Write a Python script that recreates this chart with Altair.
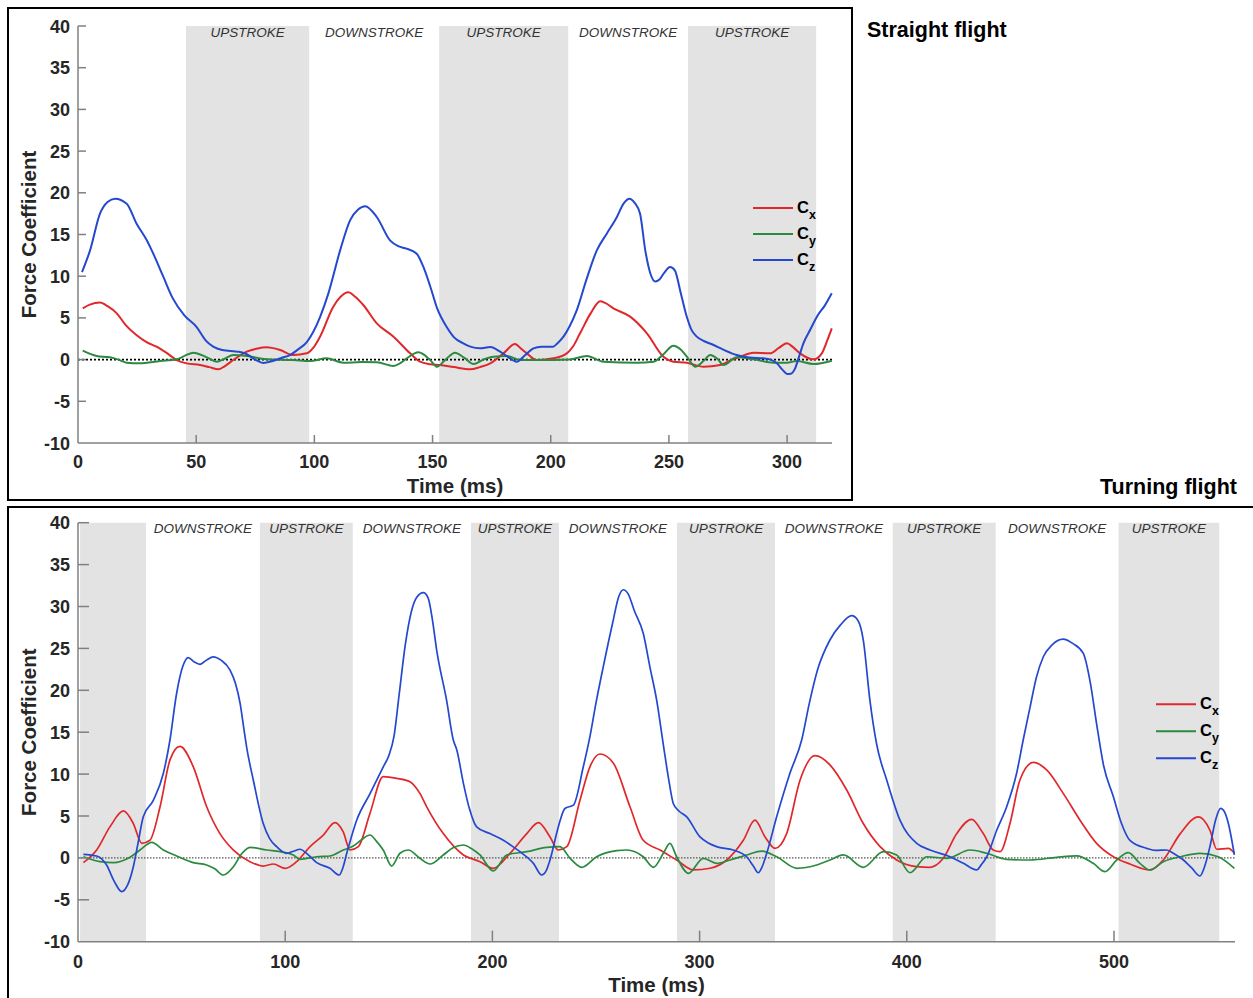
import altair as alt
import pandas as pd

W, H = 1253, 998
FONT = "Liberation Sans"
INK = "#262626"
AXIS_GREY = "#808080"
BAND_GREY = "#e3e3e3"
COLORS = {"x": "#e0282b", "y": "#2a8a3e", "z": "#2448cf"}
Y_TICKS = [-10, -5, 0, 5, 10, 15, 20, 25, 30, 35, 40]

# ---------------- Straight flight ----------------
sf_cx_t = [2, 5, 9.3, 12.5, 16.4, 20, 24.7, 29, 33.2, 37.5, 41.8, 46, 51.6, 55.5, 59.4, 62, 65.7, 71.4,
           75.5, 79.8, 85.5, 91.1, 96.8, 99.5, 102.4, 108, 111, 114.4, 117, 120.7, 126.4, 133.5, 140.5,
           144.7, 149, 153.2, 159, 165.9, 170, 174.4, 180, 184.9, 187.5, 189.9, 194.1, 201.1, 206.8,
           209.5, 212.4, 217, 220.9, 223, 226.5, 233.6, 240.7, 247.7, 251.9, 257.6, 264.6, 271.7, 276,
           280.1, 285.8, 292.8, 296.5, 299.9, 302.5, 305.5, 311.2, 314.7, 317, 318.9]
sf_cx = [6.15, 6.6, 6.85, 6.4, 5.55, 4.2, 2.95, 2.1, 1.55, 0.8, -0.05, -0.45, -0.65, -0.9, -1.16, -0.8,
         -0.05, 0.95, 1.3, 1.47, 1.15, 0.55, 0.75, 1.4, 2.75, 6.35, 7.5, 8.07, 7.6, 6.55, 4.35, 2.75,
         0.75, -0.25, -0.55, -0.65, -0.9, -1.16, -0.9, -0.45, 0.75, 1.87, 1.3, 0.75, -0.05, 0.15, 0.75,
         1.6, 3.15, 5.6, 7.0, 6.8, 6.15, 5.15, 3.15, 0.35, -0.25, -0.37, -0.85, -0.65, -0.1, 0.35, 0.83,
         0.75, 1.4, 1.95, 1.5, 0.75, 0.03, 0.75, 2.3, 3.75]

sf_cy_t = [2, 7.9, 13.5, 17, 20.6, 26.2, 34.7, 41.8, 45.5, 48.8, 54.5, 58.7, 62, 65.7, 71.4, 79.8, 91.1,
           98.2, 105.2, 112.3, 120, 126.4, 133.5, 136.5, 139.1, 144, 149, 151.8, 155.5, 159.5, 163.5,
           167.3, 171.5, 175.8, 181.4, 187.1, 201.1, 208, 215.3, 222.3, 236.4, 243.5, 247.5, 251.9, 255,
           257.6, 261.1, 264.5, 267.5, 270.5, 273.1, 278.7, 285.8, 294.2, 299.9, 304.1, 311.2, 318.9]
sf_cy = [1.07, 0.43, 0.27, 0, -0.37, -0.45, -0.17, 0.03, 0.5, 0.83, 0.27, -0.25, 0.1, 0.55, 0.43, 0.03,
         -0.05, -0.17, 0.15, -0.37, -0.3, -0.32, -0.77, -0.4, 0.15, 0.87, -0.05, -0.85, 0, 0.83, 0.2,
         -0.53, 0, 0.35, 0.43, -0.05, -0.05, 0, 0.43, -0.25, -0.37, -0.25, 0.6, 1.67, 1.2, 0.35, -0.85,
         -0.2, 0.55, 0.1, -0.65, 0.27, 0.03, -0.37, -0.37, -0.17, -0.53, -0.13]

sf_cz_t = [1.7, 5.1, 9.3, 12.5, 15.7, 20.6, 24.8, 29.1, 31.2, 36, 40, 45, 50.2, 54, 57.2, 61, 65.7, 68,
           71, 75, 78.4, 82, 86, 89.7, 93, 96.8, 99.5, 102.4, 106, 110.9, 115.1, 118.5, 121.5, 126.4,
           132, 135.5, 139, 143.3, 146, 149, 152, 156, 159, 163, 166, 170, 174.4, 178.6, 182, 185.6,
           189, 192.7, 196, 201, 203, 205.4, 208, 211, 215, 219.5, 223.7, 228, 230.8, 233.3, 235.5,
           237.8, 240, 242.3, 244.2, 246, 248, 250.5, 252.5, 255, 257.6, 259.5, 261.8, 265, 268.9,
           273, 278.7, 284, 290, 293, 295.7, 298, 300, 301.5, 303.4, 305, 306.9, 310, 312.6, 316, 318.9]
sf_cz = [10.5, 13.1, 17.5, 18.9, 19.3, 18.7, 16.3, 14.3, 13.1, 10, 7.4, 5.3, 3.9, 2.3, 1.55, 1.15, 1.0,
         0.95, 0.7, 0, -0.4, -0.2, 0.2, 0.55, 1.2, 2.1, 3.3, 5.1, 8.0, 13.1, 16.7, 18.0, 18.4, 17.1,
         14.3, 13.6, 13.3, 12.7, 11.2, 8.8, 6.1, 3.9, 2.7, 1.95, 1.55, 1.35, 1.5, 0.95, 0.3, -0.25,
         0.5, 1.35, 1.55, 1.55, 2.0, 2.75, 4.0, 5.9, 9.5, 13.1, 15.1, 17.1, 18.7, 19.3, 18.8, 17.5,
         13.1, 10.2, 9.35, 9.6, 10.4, 11.1, 10.7, 8.0, 5.1, 3.6, 2.75, 2.2, 1.75, 1.2, 0.55, 0.25,
         0.15, 0, -0.45, -1.2, -1.73, -1.7, -1.05, 0.3, 1.95, 3.7, 5.15, 6.5, 7.95]

sf_band_start = [45.7, 152.8, 258.1]
sf_band_end = [97.8, 207.4, 312.3]
sf_xticks = [0, 50, 100, 150, 200, 250, 300]

# ---------------- Turning flight ----------------
tf_cx_t = [2.6, 9, 15.4, 21.9, 26.7, 30.8, 34.7, 39.6, 44.4, 49.2, 55.6, 62.1, 68.5, 75, 83, 89.4, 94.3,
           100, 105.5, 112, 118.4, 124, 128, 131.3, 135.3, 140.9, 147.3, 153.8, 160.2, 165, 168.3,
           176.3, 186, 194, 200.4, 208.5, 216.6, 222.2, 227.8, 231.8, 235.9, 242.3, 247.1, 251.9,
           258.4, 266.4, 272.8, 280.9, 288.9, 297, 305, 313.1, 321.1, 326.7, 331.6, 336.4, 342, 348.5,
           355.7, 362.9, 371, 379, 387.1, 395.1, 404.8, 411.2, 417.6, 424.1, 431.3, 436.9, 441.7, 445,
           449.8, 454.6, 461.1, 467.5, 475.5, 483.6, 491.6, 499.7, 507.7, 517.4, 523.8, 532, 540.7,
           546.3, 549.6, 555.2, 558.1]
tf_cx = [-0.57, 0.94, 3.7, 5.6, 4.1, 1.74, 2.1, 6.1, 11.7, 13.3, 10.9, 6.1, 2.9, 0.94, -0.45, -0.97,
         -0.73, -1.24, -0.45, 1.34, 2.73, 4.2, 3.1, 0.94, 1.34, 5.3, 9.7, 9.5, 9.1, 7.7, 6.1, 2.9, 0.35,
         -0.45, -1.24, 0.55, 2.9, 4.2, 2.5, 0.94, 1.34, 6.9, 10.9, 12.4, 11.3, 6.1, 2.1, 0.94, -0.25,
         -1.44, -1.24, -0.25, 2.1, 4.5, 2.5, 1.14, 2.9, 9.3, 12.2, 11.1, 8.1, 4.1, 1.34, -0.25, -1.05,
         -1.12, -0.05, 2.9, 4.6, 2.9, 0.94, 0.74, 4.1, 9.3, 11.4, 10.5, 7.7, 4.5, 1.74, 0.14, -0.73,
         -1.44, -0.25, 2.9, 4.9, 3.3, 1.03, 1.14, 0.55]

tf_cy_t = [2.6, 10.6, 17, 25.1, 29.9, 35.6, 41.2, 47.6, 55.6, 62.1, 66, 70.1, 75, 79, 83, 91.1, 97.5,
           103.9, 107.1, 115.2, 121.6, 128, 132.9, 137, 140.9, 144, 147.3, 151.4, 155.4, 159.4, 165,
           169.9, 176.3, 181, 186, 190, 194, 200.4, 206.9, 216.6, 226.2, 232.6, 237.5, 243.1, 250.3,
           260, 264.8, 272.8, 277.7, 282.5, 285.7, 288.9, 294.6, 301.8, 308.2, 314.7, 322.7, 330, 337.2,
           346.9, 356.5, 362.9, 369.4, 379, 388.7, 395.1, 401.5, 409.6, 419.3, 430.5, 438.6, 448.2,
           459.5, 472.3, 482, 490, 495.7, 501.3, 506.9, 512.5, 517.4, 523.8, 532, 541.5, 550.3, 558.1]
tf_cy = [0.14, -0.45, -0.57, 0.07, 0.94, 1.86, 0.94, 0.23, -0.57, -0.85, -1.3, -2.04, -1.05, 0.5, 1.26,
         0.94, 0.74, 0.35, -0.17, 0.14, 0.23, 0.94, 1.42, 2.2, 2.73, 2.0, 0.94, -0.97, 0.55, 0.94,
         -0.05, -0.73, 0.35, 1.2, 1.54, 1.1, 0.35, -1.56, 0.35, 0.74, 1.26, 1.34, -0.05, -1.12, 0.14,
         0.86, 0.94, 0.14, -1.12, 0.55, 1.74, 0.14, -1.84, -0.05, -0.65, -0.25, 0.35, 0.82, 0.14,
         -1.24, -0.85, -0.25, 0.35, -1.12, 0.74, 0.35, -1.77, 0.14, -0.05, 0.94, 0.55, -0.17, -0.25,
         0.07, 0.23, -0.65, -1.64, -0.25, 0.62, -0.65, -1.44, -0.45, 0.14, 0.55, 0.14, -1.24]

tf_cz_t = [2.6, 9, 13.8, 17.5, 21.1, 24, 26.7, 29, 31.5, 36.4, 41.2, 44.4, 47.5, 50.5, 53.2, 56, 58.9,
           62, 65.3, 69, 73.4, 76, 78.2, 80, 81.4, 84.6, 89.4, 92.5, 95.9, 100.7, 104, 107.1, 111, 115.2,
           121.6, 126.1, 127.8, 129.7, 134.5, 141, 147.4, 150, 152.5, 155, 158, 161, 163.5, 166.7, 169,
           171, 173.1, 177.9, 181.1, 182.8, 186, 189, 192.4, 198.8, 205.3, 209, 213.3, 219.8, 223.8,
           225.8, 227.8, 231.8, 235, 239.1, 243.9, 247.1, 250, 253.5, 258, 261, 263.2, 265.5, 268.5,
           272.8, 276, 279.3, 282.5, 285, 287.3, 290, 293.8, 300.2, 304, 308.2, 316.3, 322.7, 326,
           328.3, 330.3, 332.4, 337.2, 343.6, 349.3, 353, 357, 362.9, 368, 373.4, 376.5, 379, 382.2,
           385.5, 390.3, 396.7, 404.8, 411.2, 420.8, 427.3, 433.7, 436, 438.6, 443.4, 448.2, 453,
           456.2, 459.5, 462.5, 465.9, 470, 475.5, 480, 485.2, 488.5, 491.6, 495, 499.7, 503.5, 507.7,
           515.8, 520, 525.4, 529, 533.5, 537.5, 541.5, 543.5, 546.3, 549, 551.5, 553.5, 555.2, 558.1]
tf_cz = [0.43, 0.23, -0.85, -2.8, -4.03, -3.2, -1.05, 1.8, 4.9, 6.9, 10.1, 14.1, 19.5, 22.8, 23.9, 23.4,
         23.1, 23.6, 24.0, 23.6, 22.4, 20.8, 18.5, 15.5, 13.2, 9.3, 4.1, 2.3, 1.34, 0.55, 0.8, 1.03,
         0.4, -0.57, -1.24, -2.04, -1.2, 0.55, 4.5, 7.7, 10.9, 12.2, 14.5, 19.5, 25.5, 29.5, 31.1,
         31.65, 31.0, 28.5, 24.8, 18.8, 14.1, 12.9, 8.9, 5.8, 3.7, 2.9, 2.1, 1.5, 0.74, -0.65, -2.04,
         -1.6, -0.25, 3.7, 5.9, 6.3, 10.9, 14.5, 18.5, 22.8, 28.0, 31.2, 32.0, 31.5, 29.5, 26.8, 22.8,
         18.8, 13.5, 9.5, 6.5, 5.6, 4.9, 2.5, 1.8, 1.34, 0.94, 0.14, -1.0, -1.77, -1.0, 0.55, 4.9,
         10.1, 14.1, 18.5, 22.5, 26.0, 27.8, 28.9, 28.3, 26.0, 18.8, 13.5, 9.3, 4.5, 1.74, 0.94, 0.14,
         -0.65, -1.44, -0.8, 0.14, 3.3, 6.1, 10.1, 14.1, 18.0, 21.5, 24.0, 25.4, 26.1, 25.6, 24.4,
         21.0, 16.0, 11.0, 7.3, 4.2, 2.1, 1.14, 0.9, 0.94, 0.5, -0.25, -1.2, -2.16, -1.2, 1.34, 4.5,
         5.9, 5.4, 4.1, 0.35]

tf_band_start = [1.0, 87.8, 189.7, 289.1, 393.2, 502.2]
tf_band_end = [32.8, 132.6, 232.1, 336.4, 442.9, 550.8]
tf_xticks = [0, 100, 200, 300, 400, 500]


def stroke_labels(starts, ends, label_first_band):
    """UPSTROKE centred in each shaded band, DOWNSTROKE centred in each gap."""
    rows = []
    for i, (s, e) in enumerate(zip(starts, ends)):
        if i > 0 or label_first_band:
            rows.append({"t": (s + e) / 2, "label": "UPSTROKE"})
        if i + 1 < len(starts):
            rows.append({"t": (e + starts[i + 1]) / 2, "label": "DOWNSTROKE"})
    return pd.DataFrame(rows)


def panel(curves, starts, ends, label_first_band, t_max, x_px, y_px, x_labels,
          tick_len, zero_style, legend_x, legend_y, legend_step, line_width,
          xlab_base, xtitle_base):
    xs = alt.Scale(domain=[0, t_max], range=list(x_px), nice=False, zero=False)
    ys = alt.Scale(domain=[-10, 40], range=[y_px[1], y_px[0]], nice=False, zero=False)

    def X(field):
        return alt.X(field, scale=xs, axis=None)

    def Y(field):
        return alt.Y(field, scale=ys, axis=None)

    one = pd.DataFrame({"k": [0]})

    bands = alt.Chart(pd.DataFrame({"s": starts, "e": ends})).mark_rect(color=BAND_GREY).encode(
        x=X("s:Q"), x2="e:Q",
        y=alt.YDatum(-10, scale=ys, axis=None), y2=alt.Y2Datum(40))

    labels = alt.Chart(stroke_labels(starts, ends, label_first_band)).mark_text(
        font=FONT, fontSize=13.5, fontStyle="italic", color="#333333", baseline="middle").encode(
        x=X("t:Q"), y=alt.YDatum(39.2, scale=ys, axis=None), text="label:N")

    zero = alt.Chart(one).mark_rule(**zero_style).encode(
        x=alt.XDatum(0, scale=xs, axis=None), x2=alt.X2Datum(t_max),
        y=alt.YDatum(0, scale=ys, axis=None))

    lines = [
        alt.Chart(pd.DataFrame({"t": t, "v": v})).mark_line(
            color=COLORS[name], strokeWidth=line_width, interpolate="monotone").encode(
            x=X("t:Q"), y=Y("v:Q"))
        for name, t, v in curves
    ]

    # axis lines
    x_dom = alt.Chart(one).mark_rule(color=AXIS_GREY, strokeWidth=1.5).encode(
        x=alt.XDatum(0, scale=xs, axis=None), x2=alt.X2Datum(t_max),
        y=alt.YDatum(-10, scale=ys, axis=None))
    y_dom = alt.Chart(one).mark_rule(color=AXIS_GREY, strokeWidth=1.5).encode(
        x=alt.XDatum(0, scale=xs, axis=None),
        y=alt.YDatum(-10, scale=ys, axis=None), y2=alt.Y2Datum(40))

    # inward-pointing tick marks
    xt = alt.Chart(pd.DataFrame({"t": x_labels[1:]})).mark_rule(color=AXIS_GREY, strokeWidth=1.5).encode(
        x=X("t:Q"), y=alt.value(y_px[1]), y2=alt.value(y_px[1] - tick_len))
    yt = alt.Chart(pd.DataFrame({"v": Y_TICKS[1:]})).mark_rule(color=AXIS_GREY, strokeWidth=1.5).encode(
        y=Y("v:Q"), x=alt.value(x_px[0]), x2=alt.value(x_px[0] + tick_len))

    # tick labels
    lab_style = dict(font=FONT, fontSize=18, fontWeight="bold", color=INK, baseline="alphabetic")
    x_lab = alt.Chart(pd.DataFrame({"t": x_labels, "s": [str(v) for v in x_labels]})).mark_text(
        align="center", **lab_style).encode(x=X("t:Q"), y=alt.value(xlab_base), text="s:N")
    y_lab = alt.Chart(pd.DataFrame({"v": Y_TICKS, "s": [str(v) for v in Y_TICKS]})).mark_text(
        align="right", dy=6.5, **lab_style).encode(y=Y("v:Q"), x=alt.value(x_px[0] - 8), text="s:N")

    # axis titles
    title_style = dict(font=FONT, fontSize=20.5, fontWeight="bold", color=INK, baseline="alphabetic",
                       align="center")
    x_title = alt.Chart(one).mark_text(**title_style).encode(
        x=alt.value((x_px[0] + x_px[1]) / 2), y=alt.value(xtitle_base), text=alt.value("Time (ms)"))
    y_title = alt.Chart(one).mark_text(angle=270, **title_style).encode(
        x=alt.value(35.5), y=alt.value((y_px[0] + y_px[1]) / 2), text=alt.value("Force Coefficient"))

    legend = []
    for i, name in enumerate(["x", "y", "z"]):
        row = legend_y + legend_step * i
        legend.append(alt.Chart(one).mark_rule(color=COLORS[name], strokeWidth=2).encode(
            x=alt.value(legend_x), x2=alt.value(legend_x + 40), y=alt.value(row)))
        legend.append(alt.Chart(one).mark_text(
            font=FONT, fontSize=16.5, fontWeight="bold", color="black", align="left",
            baseline="middle").encode(x=alt.value(legend_x + 44), y=alt.value(row), text=alt.value("C")))
        legend.append(alt.Chart(one).mark_text(
            font=FONT, fontSize=12.5, fontWeight="bold", color="black", align="left",
            baseline="middle").encode(x=alt.value(legend_x + 56), y=alt.value(row + 6.5), text=alt.value(name)))

    return alt.layer(bands, labels, zero, *lines, x_dom, y_dom, xt, yt, x_lab, y_lab,
                     x_title, y_title, *legend)


straight = panel(
    [("x", sf_cx_t, sf_cx), ("y", sf_cy_t, sf_cy), ("z", sf_cz_t, sf_cz)],
    sf_band_start, sf_band_end, True, 319, (78, 832), (26, 443), sf_xticks, 8,
    {"color": "black", "strokeWidth": 1.8, "strokeDash": [2, 2]}, 753, 208, 26, 2,
    468, 493)

turning = panel(
    [("x", tf_cx_t, tf_cx), ("y", tf_cy_t, tf_cy), ("z", tf_cz_t, tf_cz)],
    tf_band_start, tf_band_end, False, 558.4, (78, 1235), (522.7, 941.7), tf_xticks, 11,
    {"color": "#555555", "strokeWidth": 1.2, "strokeDash": [1.5, 1.5]}, 1156, 704.3, 27, 1.7,
    968, 991.5)

one = pd.DataFrame({"k": [0]})
frame_top = alt.Chart(one).mark_rect(fillOpacity=0, stroke="black", strokeWidth=2).encode(
    x=alt.value(8), x2=alt.value(852), y=alt.value(8), y2=alt.value(500))
frame_bottom = alt.Chart(one).mark_rect(fillOpacity=0, stroke="black", strokeWidth=2).encode(
    x=alt.value(8), x2=alt.value(1262), y=alt.value(507), y2=alt.value(1010))
title_straight = alt.Chart(one).mark_text(
    font=FONT, fontSize=21.5, fontWeight="bold", color="black", align="left",
    baseline="alphabetic").encode(x=alt.value(867), y=alt.value(37), text=alt.value("Straight flight"))
title_turning = alt.Chart(one).mark_text(
    font=FONT, fontSize=21.5, fontWeight="bold", color="black", align="right",
    baseline="alphabetic").encode(x=alt.value(1237), y=alt.value(494), text=alt.value("Turning flight"))

chart = alt.layer(
    straight, turning, frame_top, frame_bottom, title_straight, title_turning
).resolve_scale(
    x="independent", y="independent"
).properties(
    width=W, height=H, padding=0, background="white",
    autosize=alt.AutoSizeParams(type="none"),
).configure_view(strokeWidth=0)

chart.save("out.html", embed_options={"renderer": "svg", "actions": False})
